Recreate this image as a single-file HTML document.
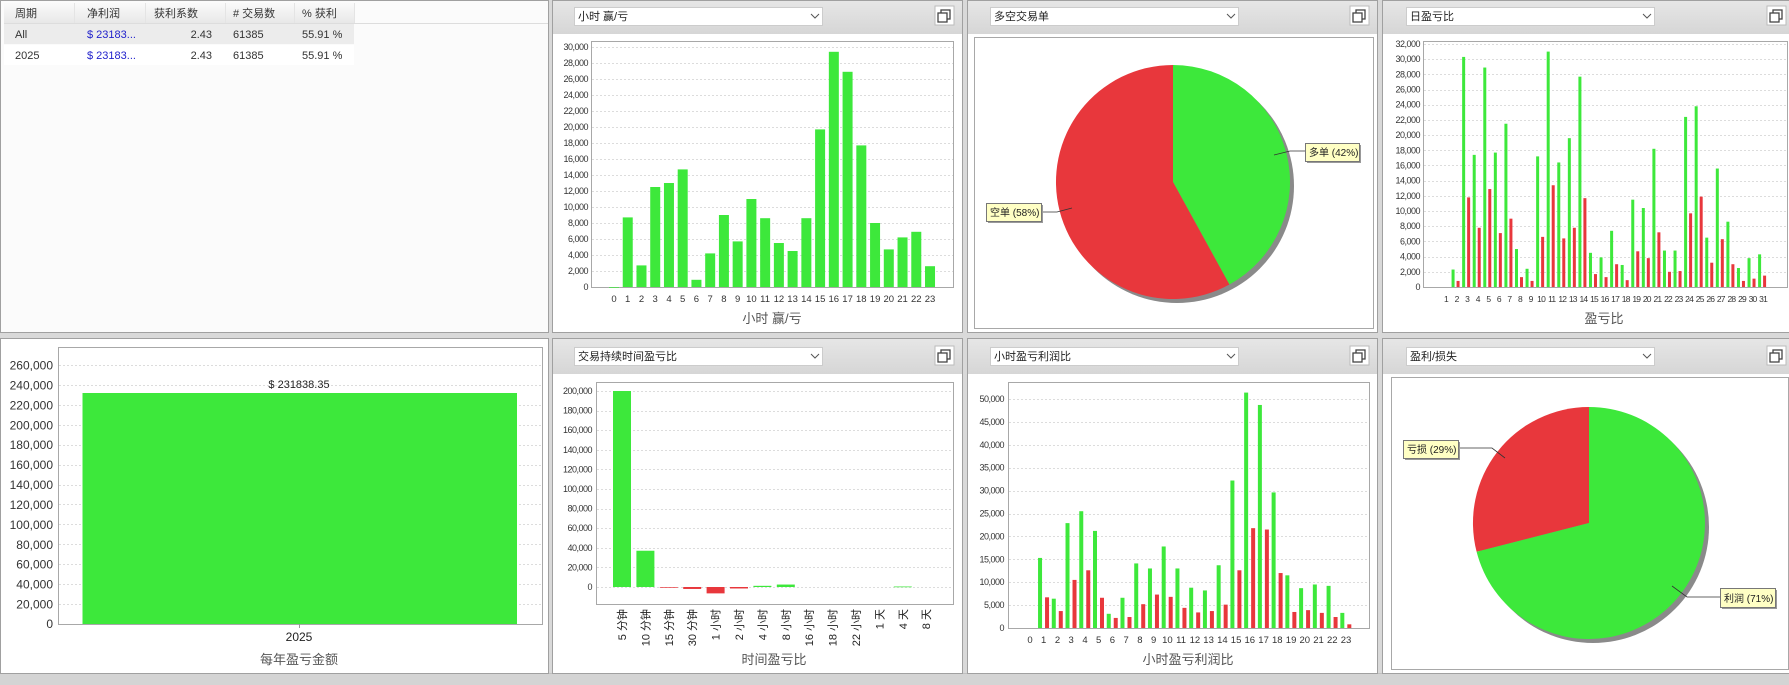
<!DOCTYPE html>
<html><head><meta charset="utf-8">
<style>
html,body{margin:0;padding:0;background:#d9d9d9;}
svg{display:block;font-family:"Liberation Sans","Noto Sans CJK SC",sans-serif;}
.yl{font-size:9px;fill:#333;text-anchor:end;letter-spacing:-0.5px}
.xl{font-size:9.5px;fill:#333;text-anchor:middle}
.ttl{font-size:13px;fill:#555;text-anchor:middle}
.dd{font-size:11px;fill:#222}
.th{font-size:11px;fill:#333}
.td{font-size:11px;fill:#333}
.tip{font-size:10px;fill:#222}
</style></head><body>
<svg id="s" width="1789" height="685" viewBox="0 0 1789 685" xmlns="http://www.w3.org/2000/svg">
<defs>
<linearGradient id="hg" x1="0" y1="0" x2="0" y2="1"><stop offset="0" stop-color="#e6e6e6"/><stop offset="1" stop-color="#d6d6d6"/></linearGradient>
<linearGradient id="th" x1="0" y1="0" x2="0" y2="1"><stop offset="0" stop-color="#fafafa"/><stop offset="1" stop-color="#e8e8e8"/></linearGradient>
<g id="ico"><rect x="0" y="0" width="19" height="19" fill="#fff" stroke="#bbb"/><rect x="6" y="4" width="9" height="9" fill="none" stroke="#444" stroke-width="1.3"/><rect x="3" y="7" width="9" height="9" fill="#fff" stroke="#444" stroke-width="1.3"/></g>
</defs>
<rect x="0" y="0" width="1789" height="685" fill="#d9d9d9"/>
<rect x="0" y="673" width="1789" height="12" fill="#d4d4d4"/>
<rect x="0" y="673" width="1789" height="1" fill="#c0c0c0"/>

<rect x="0.5" y="0.5" width="548" height="332" fill="#fbfbfb" stroke="#a0a0a0"/>
<rect x="4" y="3" width="350" height="20" fill="url(#th)"/>
<rect x="4" y="24" width="350" height="20" fill="#ececec"/>
<rect x="4" y="45" width="350" height="20" fill="#fff"/>
<line x1="4" y1="23.5" x2="548" y2="23.5" stroke="#ddd"/>
<g stroke="#e4e4e4"><line x1="74.5" y1="3" x2="74.5" y2="23"/><line x1="145.5" y1="3" x2="145.5" y2="23"/><line x1="225.5" y1="3" x2="225.5" y2="23"/><line x1="294.5" y1="3" x2="294.5" y2="23"/><line x1="354.5" y1="3" x2="354.5" y2="23"/></g>
<text class="th" x="15" y="17">周期</text><text class="th" x="87" y="17">净利润</text><text class="th" x="154" y="17">获利系数</text><text class="th" x="233" y="17"># 交易数</text><text class="th" x="302" y="17">% 获利</text>
<text class="td" x="15" y="38">All</text><text class="td" x="87" y="38" style="fill:#2222cc">$ 23183...</text><text class="td" x="212" y="38" text-anchor="end">2.43</text><text class="td" x="233" y="38">61385</text><text class="td" x="302" y="38">55.91 %</text>
<text class="td" x="15" y="59">2025</text><text class="td" x="87" y="59" style="fill:#2222cc">$ 23183...</text><text class="td" x="212" y="59" text-anchor="end">2.43</text><text class="td" x="233" y="59">61385</text><text class="td" x="302" y="59">55.91 %</text>

<g>
<rect x="552.5" y="0.5" width="410" height="332" fill="#fff" stroke="#a0a0a0"/>
<rect x="553" y="1" width="409" height="33" fill="url(#hg)"/>
<rect x="967.5" y="0.5" width="410" height="332" fill="#fff" stroke="#a0a0a0"/>
<rect x="968" y="1" width="409" height="33" fill="url(#hg)"/>
<rect x="1382.5" y="0.5" width="407" height="332" fill="#fff" stroke="#a0a0a0"/>
<rect x="1383" y="1" width="406" height="33" fill="url(#hg)"/>
<rect x="0.5" y="338.5" width="548" height="335" fill="#fff" stroke="#a0a0a0"/>
<rect x="552.5" y="338.5" width="410" height="335" fill="#fff" stroke="#a0a0a0"/>
<rect x="553" y="339" width="409" height="35" fill="url(#hg)"/>
<rect x="967.5" y="338.5" width="410" height="335" fill="#fff" stroke="#a0a0a0"/>
<rect x="968" y="339" width="409" height="35" fill="url(#hg)"/>
<rect x="1382.5" y="338.5" width="407" height="335" fill="#fff" stroke="#a0a0a0"/>
<rect x="1383" y="339" width="406" height="35" fill="url(#hg)"/>
</g>
<g>
<rect x="574.5" y="7.5" width="248" height="18" fill="#fff" stroke="#ccc"/><text class="dd" x="578" y="20">小时 赢/亏</text><path d="M811 14 l4 4 l4 -4" fill="none" stroke="#555"/>
<use href="#ico" x="935" y="6"/>
<rect x="990.5" y="7.5" width="248" height="18" fill="#fff" stroke="#ccc"/><text class="dd" x="994" y="20">多空交易单</text><path d="M1227 14 l4 4 l4 -4" fill="none" stroke="#555"/>
<use href="#ico" x="1350" y="6"/>
<rect x="1406.5" y="7.5" width="248" height="18" fill="#fff" stroke="#ccc"/><text class="dd" x="1410" y="20">日盈亏比</text><path d="M1643 14 l4 4 l4 -4" fill="none" stroke="#555"/>
<use href="#ico" x="1767" y="6"/>
<rect x="574.5" y="347.5" width="248" height="18" fill="#fff" stroke="#ccc"/><text class="dd" x="578" y="360">交易持续时间盈亏比</text><path d="M811 354 l4 4 l4 -4" fill="none" stroke="#555"/>
<use href="#ico" x="935" y="346"/>
<rect x="990.5" y="347.5" width="248" height="18" fill="#fff" stroke="#ccc"/><text class="dd" x="994" y="360">小时盈亏利润比</text><path d="M1227 354 l4 4 l4 -4" fill="none" stroke="#555"/>
<use href="#ico" x="1350" y="346"/>
<rect x="1406.5" y="347.5" width="248" height="18" fill="#fff" stroke="#ccc"/><text class="dd" x="1410" y="360">盈利/损失</text><path d="M1643 354 l4 4 l4 -4" fill="none" stroke="#555"/>
<use href="#ico" x="1767" y="346"/>
</g>

<g fill="none" stroke="#a8a8a8">
<rect x="591.5" y="41.5" width="362" height="246"/>
<rect x="974.5" y="37.5" width="399" height="291"/>
<rect x="1423.5" y="41.5" width="364" height="246"/>
<rect x="58.5" y="347.5" width="484" height="277"/>
<rect x="596.5" y="382.5" width="357" height="222"/>
<rect x="1008.5" y="382.5" width="361" height="246"/>
<rect x="1391.5" y="377.5" width="397" height="292"/>
</g>
<g id="grid" stroke="#dcdcdc" stroke-dasharray="2,2"></g>
<g id="bars"></g>

<g class="yl">
<text x="588" y="290">0</text><text x="588" y="274">2,000</text><text x="588" y="258">4,000</text><text x="588" y="242">6,000</text><text x="588" y="226">8,000</text><text x="588" y="210">10,000</text><text x="588" y="194">12,000</text><text x="588" y="178">14,000</text><text x="588" y="162">16,000</text><text x="588" y="146">18,000</text><text x="588" y="130">20,000</text><text x="588" y="114">22,000</text><text x="588" y="98">24,000</text><text x="588" y="82">26,000</text><text x="588" y="66">28,000</text><text x="588" y="50">30,000</text>
</g>
<g class="xl">
<text x="614" y="302">0</text><text x="627.7" y="302">1</text><text x="641.5" y="302">2</text><text x="655.2" y="302">3</text><text x="669" y="302">4</text><text x="682.7" y="302">5</text><text x="696.4" y="302">6</text><text x="710.2" y="302">7</text><text x="723.9" y="302">8</text><text x="737.7" y="302">9</text><text x="751.4" y="302">10</text><text x="765.1" y="302">11</text><text x="778.9" y="302">12</text><text x="792.6" y="302">13</text><text x="806.4" y="302">14</text><text x="820.1" y="302">15</text><text x="833.8" y="302">16</text><text x="847.6" y="302">17</text><text x="861.3" y="302">18</text><text x="875.1" y="302">19</text><text x="888.8" y="302">20</text><text x="902.5" y="302">21</text><text x="916.3" y="302">22</text><text x="930" y="302">23</text>
</g>
<text class="ttl" x="772" y="323">小时 赢/亏</text>

<g class="yl">
<text x="1420" y="290">0</text><text x="1420" y="274.8">2,000</text><text x="1420" y="259.6">4,000</text><text x="1420" y="244.4">6,000</text><text x="1420" y="229.2">8,000</text><text x="1420" y="214.1">10,000</text><text x="1420" y="198.9">12,000</text><text x="1420" y="183.7">14,000</text><text x="1420" y="168.5">16,000</text><text x="1420" y="153.3">18,000</text><text x="1420" y="138.1">20,000</text><text x="1420" y="122.9">22,000</text><text x="1420" y="107.7">24,000</text><text x="1420" y="92.5">26,000</text><text x="1420" y="77.3">28,000</text><text x="1420" y="62.2">30,000</text><text x="1420" y="47">32,000</text>
</g>
<g class="xl" style="font-size:8.5px;letter-spacing:-0.8px">
<text x="1446" y="302">1</text><text x="1456.6" y="302">2</text><text x="1467.1" y="302">3</text><text x="1477.7" y="302">4</text><text x="1488.3" y="302">5</text><text x="1498.9" y="302">6</text><text x="1509.4" y="302">7</text><text x="1520" y="302">8</text><text x="1530.6" y="302">9</text><text x="1541.1" y="302">10</text><text x="1551.7" y="302">11</text><text x="1562.3" y="302">12</text><text x="1572.8" y="302">13</text><text x="1583.4" y="302">14</text><text x="1594" y="302">15</text><text x="1604.6" y="302">16</text><text x="1615.1" y="302">17</text><text x="1625.7" y="302">18</text><text x="1636.3" y="302">19</text><text x="1646.8" y="302">20</text><text x="1657.4" y="302">21</text><text x="1668" y="302">22</text><text x="1678.5" y="302">23</text><text x="1689.1" y="302">24</text><text x="1699.7" y="302">25</text><text x="1710.3" y="302">26</text><text x="1720.8" y="302">27</text><text x="1731.4" y="302">28</text><text x="1742" y="302">29</text><text x="1752.5" y="302">30</text><text x="1763.1" y="302">31</text>
</g>
<text class="ttl" x="1604" y="323">盈亏比</text>

<circle cx="1177" cy="186" r="117" fill="#8a8a8a"/>
<path d="M1173 182 L1173 65 A117 117 0 0 1 1229.4 284.5 Z" fill="#3de83b"/>
<path d="M1173 182 L1229.4 284.5 A117 117 0 1 1 1173 65 Z" fill="#e8373c"/>
<polyline points="1274,155 1290,151 1305,151" fill="none" stroke="#333" stroke-width="0.8"/>
<polyline points="1072,208 1057,212 1041,212" fill="none" stroke="#333" stroke-width="0.8"/>
<rect x="1307" y="145" width="54" height="18" fill="#999"/>
<rect x="1305.5" y="143.5" width="54" height="18" fill="#ffffc4" stroke="#777"/>
<text class="tip" x="1309" y="156">多单 (42%)</text>
<rect x="988" y="205" width="55" height="18" fill="#999"/>
<rect x="986.5" y="203.5" width="55" height="18" fill="#ffffc4" stroke="#777"/>
<text class="tip" x="990" y="216">空单 (58%)</text>

<g class="yl" style="font-size:12px;letter-spacing:0">
<text x="53" y="628">0</text><text x="53" y="608.6">20,000</text><text x="53" y="588.7">40,000</text><text x="53" y="568.7">60,000</text><text x="53" y="548.8">80,000</text><text x="53" y="528.9">100,000</text><text x="53" y="509">120,000</text><text x="53" y="489.1">140,000</text><text x="53" y="469.1">160,000</text><text x="53" y="449.2">180,000</text><text x="53" y="429.3">200,000</text><text x="53" y="409.4">220,000</text><text x="53" y="389.5">240,000</text><text x="53" y="369.5">260,000</text>
</g>
<rect x="82.5" y="393" width="434.5" height="231" fill="#3de83b"/>
<text x="299" y="388" font-size="11" fill="#222" text-anchor="middle">$ 231838.35</text>
<line x1="299.5" y1="624" x2="299.5" y2="628" stroke="#999"/>
<text x="299" y="641" font-size="12" fill="#222" text-anchor="middle">2025</text>
<text class="ttl" x="299" y="664">每年盈亏金额</text>

<g class="yl">
<text x="592" y="590">0</text><text x="592" y="570.4">20,000</text><text x="592" y="550.8">40,000</text><text x="592" y="531.2">60,000</text><text x="592" y="511.6">80,000</text><text x="592" y="492">100,000</text><text x="592" y="472.4">120,000</text><text x="592" y="452.8">140,000</text><text x="592" y="433.2">160,000</text><text x="592" y="413.6">180,000</text><text x="592" y="394">200,000</text>
</g>
<g font-size="11" fill="#222" text-anchor="end">
<text transform="translate(626,609) rotate(-90)">5 分钟</text>
<text transform="translate(649.4,609) rotate(-90)">10 分钟</text>
<text transform="translate(672.8,609) rotate(-90)">15 分钟</text>
<text transform="translate(696.2,609) rotate(-90)">30 分钟</text>
<text transform="translate(719.6,609) rotate(-90)">1 小时</text>
<text transform="translate(743,609) rotate(-90)">2 小时</text>
<text transform="translate(766.4,609) rotate(-90)">4 小时</text>
<text transform="translate(789.8,609) rotate(-90)">8 小时</text>
<text transform="translate(813.2,609) rotate(-90)">16 小时</text>
<text transform="translate(836.6,609) rotate(-90)">18 小时</text>
<text transform="translate(860,609) rotate(-90)">22 小时</text>
<text transform="translate(883.4,609) rotate(-90)">1 天</text>
<text transform="translate(906.8,609) rotate(-90)">4 天</text>
<text transform="translate(930.2,609) rotate(-90)">8 天</text>
</g>
<text class="ttl" x="774" y="664">时间盈亏比</text>

<g class="yl">
<text x="1004" y="631">0</text><text x="1004" y="608.1">5,000</text><text x="1004" y="585.2">10,000</text><text x="1004" y="562.3">15,000</text><text x="1004" y="539.4">20,000</text><text x="1004" y="516.5">25,000</text><text x="1004" y="493.6">30,000</text><text x="1004" y="470.7">35,000</text><text x="1004" y="447.8">40,000</text><text x="1004" y="424.9">45,000</text><text x="1004" y="402">50,000</text>
</g>
<g class="xl">
<text x="1030" y="643">0</text><text x="1043.7" y="643">1</text><text x="1057.5" y="643">2</text><text x="1071.2" y="643">3</text><text x="1085" y="643">4</text><text x="1098.7" y="643">5</text><text x="1112.4" y="643">6</text><text x="1126.2" y="643">7</text><text x="1139.9" y="643">8</text><text x="1153.7" y="643">9</text><text x="1167.4" y="643">10</text><text x="1181.1" y="643">11</text><text x="1194.9" y="643">12</text><text x="1208.6" y="643">13</text><text x="1222.4" y="643">14</text><text x="1236.1" y="643">15</text><text x="1249.8" y="643">16</text><text x="1263.6" y="643">17</text><text x="1277.3" y="643">18</text><text x="1291.1" y="643">19</text><text x="1304.8" y="643">20</text><text x="1318.5" y="643">21</text><text x="1332.3" y="643">22</text><text x="1346" y="643">23</text>
</g>
<text class="ttl" x="1188" y="664">小时盈亏利润比</text>

<circle cx="1593" cy="527" r="116" fill="#8a8a8a"/>
<path d="M1589 523 L1589 407 A116 116 0 0 0 1476.6 551.8 Z" fill="#e8373c"/>
<path d="M1589 523 L1476.6 551.8 A116 116 0 1 0 1589 407 Z" fill="#3de83b"/>
<polyline points="1505,458 1492,448 1458,448" fill="none" stroke="#333" stroke-width="0.8"/>
<polyline points="1672,586 1687,597 1720,597" fill="none" stroke="#333" stroke-width="0.8"/>
<rect x="1405" y="442" width="55" height="18" fill="#999"/>
<rect x="1403.5" y="440.5" width="55" height="18" fill="#ffffc4" stroke="#777"/>
<text class="tip" x="1407" y="453">亏损 (29%)</text>
<rect x="1722" y="590" width="55" height="19" fill="#999"/>
<rect x="1720.5" y="588.5" width="55" height="19" fill="#ffffc4" stroke="#777"/>
<text class="tip" x="1724" y="602">利润 (71%)</text>
</svg>
<script>
(function(){
var NS="http://www.w3.org/2000/svg",g=document.getElementById("grid"),b=document.getElementById("bars");
function ln(x1,y,x2){var l=document.createElementNS(NS,"line");l.setAttribute("x1",x1);l.setAttribute("x2",x2);l.setAttribute("y1",y+0.5);l.setAttribute("y2",y+0.5);g.appendChild(l);}
function rc(x,y,w,h,c){if(h<0){y+=h;h=-h;}if(h<0.5)h=0.7;var r=document.createElementNS(NS,"rect");r.setAttribute("x",x);r.setAttribute("y",y);r.setAttribute("width",w);r.setAttribute("height",h);r.setAttribute("fill",c);b.appendChild(r);}
var G="#3de83b",R="#e8373c",i;
for(i=1;i<=15;i++)ln(592,Math.round(287-16*i),953);
for(i=1;i<=16;i++)ln(1424,Math.round(287-15.19*i),1787);
for(i=1;i<=13;i++)ln(59,Math.round(624-19.92*i),542);
for(i=0;i<=10;i++)ln(597,Math.round(587-19.6*i),953);
for(i=1;i<=10;i++)ln(1009,Math.round(628-22.9*i),1369);
var p2=[0,8700,2700,12500,13000,14700,900,4200,9000,5700,11000,8600,5500,4500,8600,19700,29400,26900,17700,8000,4700,6200,6900,2600];
for(i=0;i<24;i++)rc(614+13.74*i-5,287-p2[i]*0.008,10,p2[i]*0.008,G);
var dg=[0,2300,30300,17400,28900,17700,21500,5000,2400,17200,31000,16400,19600,27700,4500,3900,7400,2900,11500,10400,18200,4800,4800,22400,23800,6500,15600,8600,2500,3800,4300];
var dr=[0,800,11800,7800,12900,7100,9000,1300,800,6600,13400,6400,7800,11700,1700,1300,3000,900,4700,3800,7200,2000,2100,9700,11900,3200,6300,3000,800,1100,1500];
var s4=243/32000;
for(i=0;i<31;i++){var c=1446+10.57*i;if(dg[i])rc(c-5,287-dg[i]*s4,3,dg[i]*s4,G);if(dr[i])rc(c,287-dr[i]*s4,3,dr[i]*s4,R);}
var b2=[200000,37000,-300,-2000,-6500,-1500,1200,2500,0,0,0,0,500,0];
for(i=0;i<14;i++){if(!b2[i])continue;var h=b2[i]*0.00098;rc(622+23.4*i-9,587-h,18,h,b2[i]>0?G:R);}
var hg=[0,15300,6400,22900,25500,21200,3100,6600,14100,13000,17800,13000,8800,8200,13700,32200,51400,48700,29600,11500,8700,9500,9200,3300];
var hr=[0,6700,3700,10500,12600,6600,2200,2400,5200,7300,6800,4400,3400,3700,5100,12600,21800,21500,12000,3500,3900,3300,2400,800];
var s3=229/50000;
for(i=0;i<24;i++){var c=1030+13.74*i;if(hg[i])rc(c-5.7,628-hg[i]*s3,4,hg[i]*s3,G);if(hr[i])rc(c+1.3,628-hr[i]*s3,4,hr[i]*s3,R);}
})();
</script>
</body></html>
